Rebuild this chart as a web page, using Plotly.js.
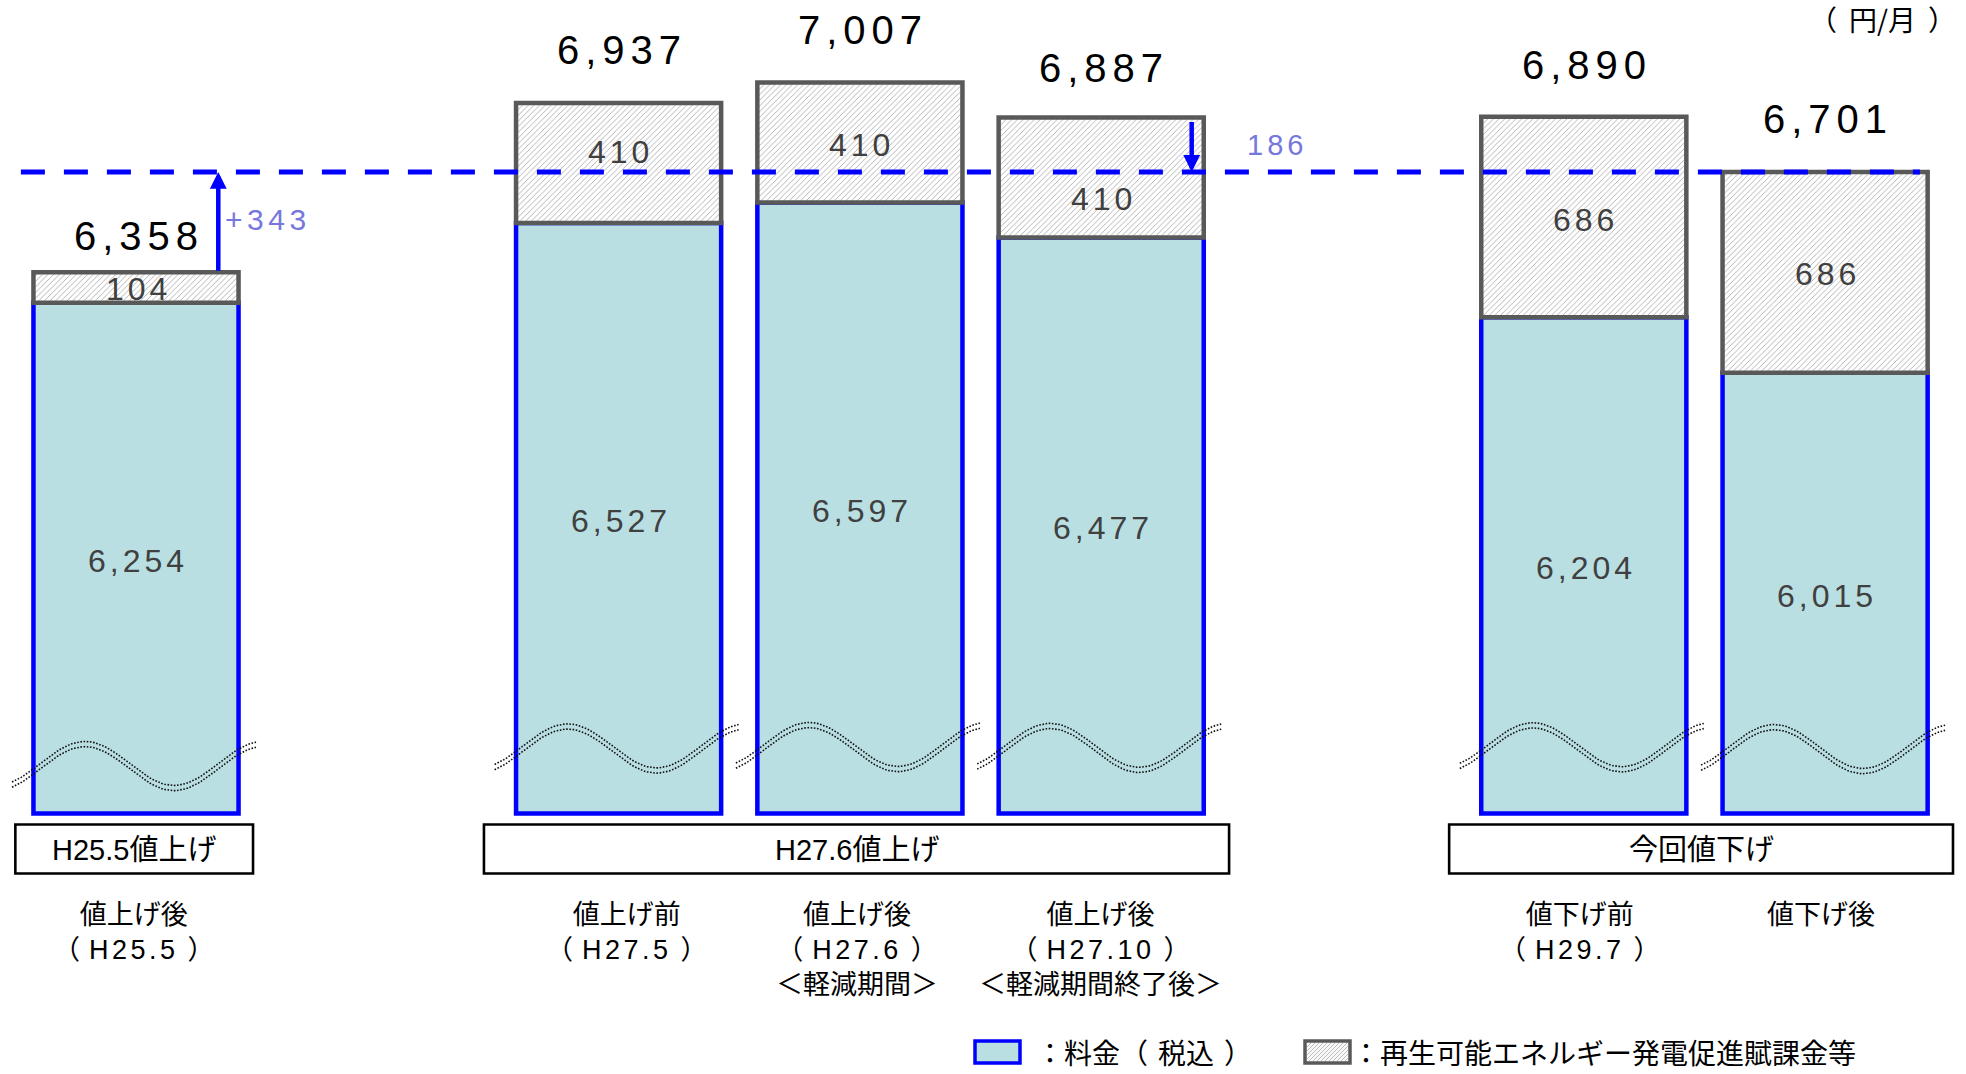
<!DOCTYPE html>
<html>
<head>
<meta charset="utf-8">
<script src="https://cdn.plot.ly/plotly-3.0.1.min.js"></script>
<style>
html,body{margin:0;padding:0;background:#ffffff;}
#chart{width:1966px;height:1074px;}
</style>
</head>
<body>
<div id="chart"></div>
<script>
// ---------------- data ----------------
const categories = [
  '値上げ後<br>（H25.5）',
  '値上げ前<br>（H27.5）',
  '値上げ後<br>（H27.6）<br>＜軽減期間＞',
  '値上げ後<br>（H27.10）<br>＜軽減期間終了後＞',
  '値下げ前<br>（H29.7）',
  '値下げ後'
];
const groupLabels = ['H25.5値上げ', 'H27.6値上げ', '今回値下げ'];
const barGroup = [0, 1, 1, 1, 2, 2];
const fee = [6254, 6527, 6597, 6477, 6204, 6015];          // 料金（税込）
const surcharge = [104, 410, 410, 410, 686, 686];          // 再エネ賦課金等
const seriesNames = ['：料金（税込）', '：再生可能エネルギー発電促進賦課金等'];
const unitLabel = '（円/月）';
const breakBase = 4508;   // value at the bottom of the broken axis

// ---------------- derived ----------------
const total = fee.map((v, i) => v + surcharge[i]);
const pos = barGroup.map((g, i) => i + g);
const refTotal = total[total.length - 1];
const diffUp = refTotal - total[0];
const diffDown = total[3] - refTotal;
const fmt = v => v.toLocaleString('en-US');

// ---------------- layout geometry ----------------
const W = 1966, H = 1074, MB = 255, PH = H - MB;
const UNIT_PX = 241.3, X0_PX = 136;
const PX_PER_VAL = 0.2925, Y_TOP = 7289;
const xRange = [-X0_PX / UNIT_PX, (W - X0_PX) / UNIT_PX];
const yRange = [Y_TOP - PH / PX_PER_VAL, Y_TOP];
const paperX = px => px / W;
const paperY = px => (PH - px) / PH;

const NUM_FONT = '"Liberation Sans", Arial, sans-serif';
const JP_FONT = '"Liberation Sans", "Noto Sans CJK JP", sans-serif';
const JP_ONLY = '"Noto Sans CJK JP", sans-serif';
const BLUE = '#0000FF', TEAL = '#B9DFE3', GREY_LINE = '#595959';
const ls = (s, v) => `<span style="letter-spacing:${v}px">${s}</span>`;
// give full-width brackets room on their inner side (as in the original typesetting)
const roomy = (s, parenGap, inner) => s.replace(/（([^）]*)）/g, (m, t) =>
  ls('（', parenGap) + (t.length > 1 ? ls(t.slice(0, -1), inner) : '') + ls(t.slice(-1), inner + parenGap) + '）');

// ---------------- traces ----------------
const barW = 0.85;
const traces = [
  {
    type: 'bar', x: pos, y: fee.map(v => v - breakBase), base: breakBase,
    width: barW, name: seriesNames[0], showlegend: false,
    marker: {color: TEAL, line: {color: BLUE, width: 4.5}},
    hoverinfo: 'skip'
  },
  {
    type: 'bar', x: pos, y: surcharge, base: fee,
    width: barW, name: seriesNames[1], showlegend: false,
    marker: {color: '#ffffff', line: {color: GREY_LINE, width: 4.5},
      pattern: {shape: '/', fgcolor: '#aaaaaa', bgcolor: '#ffffff', size: 4, solidity: 0.22}},
    hoverinfo: 'skip'
  }
];

// axis-break wavy double lines
const wave = {P: 178 / UNIT_PX, dx0: -95.5 / UNIT_PX, A: 22 / PX_PER_VAL, from: -124 / UNIT_PX, to: 120 / UNIT_PX,
  off: 2.6 / PX_PER_VAL, centre: [4670, 4730, 4735, 4732, 4734, 4728]};
[-1, 1].forEach(sgn => {
  const wx = [], wy = [];
  pos.forEach((p, i) => {
    const N = 80;
    for (let k = 0; k <= N; k++) {
      const dx = wave.from + (wave.to - wave.from) * k / N;
      wx.push(p + dx);
      wy.push(wave.centre[i] + wave.A * Math.sin(2 * Math.PI * (dx - wave.dx0) / wave.P) + sgn * wave.off);
    }
    wx.push(null); wy.push(null);
  });
  traces.push({type: 'scatter', mode: 'lines', x: wx, y: wy, connectgaps: false, showlegend: false,
    hoverinfo: 'skip', line: {color: '#111111', width: 1.6, dash: '1.6px,1.6px'}});
});

// ---------------- annotations ----------------
const annotations = [];
const totalShift = [36, 53, 52, 50, 52, 53];
const surShift = [-1.5, 11, -2.5, -21, -2.5, -2];
const catShiftX = [-2, 8, -3, -1, -4, -4];
pos.forEach((p, i) => {
  annotations.push({x: p, y: total[i], xref: 'x', yref: 'y', showarrow: false, yanchor: 'middle',
    yshift: totalShift[i], xshift: 3, text: ls(fmt(total[i]), 6),
    font: {family: NUM_FONT, size: 40, color: '#000000'}});
  annotations.push({x: p, y: fee[i] + surcharge[i] / 2, xref: 'x', yref: 'y', showarrow: false, yanchor: 'middle',
    yshift: surShift[i], xshift: 2, text: ls(fmt(surcharge[i]), 4),
    font: {family: NUM_FONT, size: 32, color: '#404040'}});
  annotations.push({x: p, y: (breakBase + fee[i]) / 2, xref: 'x', yref: 'y', showarrow: false, yanchor: 'middle',
    yshift: -3, xshift: 2, text: ls(fmt(fee[i]), 4),
    font: {family: NUM_FONT, size: 32, color: '#404040'}});
  annotations.push({x: p, y: paperY(898), xref: 'x', yref: 'paper', showarrow: false, yanchor: 'top',
    xshift: catShiftX[i], text: roomy(categories[i], 9, 3.5), font: {family: JP_FONT, size: 27, color: '#000000'}});
});

// group boxes
const groupPad = [[0.50, 0.485], [0.558, 0.53], [0.558, 0.53]];
const shapes = [];
groupLabels.forEach((lab, g) => {
  const members = pos.filter((p, i) => barGroup[i] === g);
  const x0 = members[0] - groupPad[g][0], x1 = members[members.length - 1] + groupPad[g][1];
  shapes.push({type: 'rect', xref: 'x', yref: 'paper', x0: x0, x1: x1, y0: paperY(824.5), y1: paperY(873.5),
    line: {color: '#000000', width: 2.6}, fillcolor: '#ffffff', layer: 'above'});
  annotations.push({x: (x0 + x1) / 2, y: paperY(850), xref: 'x', yref: 'paper', showarrow: false, yanchor: 'middle',
    text: lab, font: {family: JP_FONT, size: 29, color: '#000000'}});
});

// reference dashed line at the new total
shapes.push({type: 'line', xref: 'x', yref: 'y', x0: -0.477, x1: 7.393, y0: refTotal, y1: refTotal,
  line: {color: BLUE, width: 5, dash: '24px,19px'}, layer: 'above'});

// arrows and differences
const upX = pos[0] + 0.341, downX = pos[3] + 0.375;
annotations.push({x: upX, y: refTotal, ax: upX, ay: total[0], xref: 'x', yref: 'y', axref: 'x', ayref: 'y',
  text: '', showarrow: true, arrowhead: 2, arrowsize: 0.75, arrowwidth: 4.5, arrowcolor: BLUE, standoff: 0, startstandoff: 0});
annotations.push({x: downX, y: refTotal, ax: downX, ay: total[3], xref: 'x', yref: 'y', axref: 'x', ayref: 'y',
  text: '', showarrow: true, arrowhead: 2, arrowsize: 0.75, arrowwidth: 4.5, arrowcolor: BLUE, standoff: 0, startstandoff: 3});
annotations.push({x: upX, y: (refTotal + total[0]) / 2, xref: 'x', yref: 'y', showarrow: false,
  xanchor: 'left', yanchor: 'middle', xshift: 5, yshift: 3, text: ls('+' + diffUp, 4.5),
  font: {family: NUM_FONT, size: 30, color: '#7777DD'}});
annotations.push({x: downX, y: (refTotal + total[3]) / 2, xref: 'x', yref: 'y', showarrow: false,
  xanchor: 'left', yanchor: 'middle', xshift: 53, yshift: 0, text: ls(String(diffDown), 4),
  font: {family: NUM_FONT, size: 29, color: '#7777DD'}});

// unit label
annotations.push({x: paperX(1882), y: paperY(19), xref: 'paper', yref: 'paper', showarrow: false,
  xanchor: 'center', yanchor: 'middle', text: roomy(unitLabel, 12, 0), font: {family: JP_ONLY, size: 28, color: '#000000'}});

// custom legend
const sw1 = [975, 1020], sw2 = [1305, 1350], swY = [1041, 1063];
shapes.push({type: 'rect', xref: 'paper', yref: 'paper', x0: paperX(sw1[0]), x1: paperX(sw1[1]),
  y0: paperY(swY[1]), y1: paperY(swY[0]), fillcolor: TEAL, line: {color: BLUE, width: 3.5}});
shapes.push({type: 'rect', xref: 'paper', yref: 'paper', x0: paperX(sw2[0]), x1: paperX(sw2[1]),
  y0: paperY(swY[1]), y1: paperY(swY[0]), fillcolor: '#f7f7f7', line: {color: GREY_LINE, width: 3.5}});
(function () {
  const [x0, x1] = [sw2[0] + 2, sw2[1] - 2], [y0, y1] = [swY[0] + 2, swY[1] - 2], h = y1 - y0;
  let d = '';
  for (let c = x0 - h; c < x1; c += 4) {
    let sx = c, sy = y1, ex = c + h, ey = y0;
    if (sx < x0) { sy = y1 - (x0 - sx); sx = x0; }
    if (ex > x1) { ey = y0 + (ex - x1); ex = x1; }
    d += `M${paperX(sx)},${paperY(sy)}L${paperX(ex)},${paperY(ey)}`;
  }
  shapes.push({type: 'path', xref: 'paper', yref: 'paper', path: d, line: {color: '#bdbdbd', width: 1}});
})();
annotations.push({x: paperX(1034), y: paperY(1052), xref: 'paper', yref: 'paper', showarrow: false,
  xanchor: 'left', yanchor: 'middle', text: roomy(seriesNames[0], 10, 0), font: {family: JP_ONLY, size: 28, color: '#000000'}});
annotations.push({x: paperX(1350), y: paperY(1052), xref: 'paper', yref: 'paper', showarrow: false,
  xanchor: 'left', yanchor: 'middle', text: seriesNames[1], font: {family: JP_ONLY, size: 28, color: '#000000'}});

const layout = {
  width: W, height: H,
  margin: {l: 0, r: 0, t: 0, b: MB, pad: 0},
  paper_bgcolor: '#ffffff', plot_bgcolor: '#ffffff',
  barmode: 'overlay',
  showlegend: false,
  xaxis: {range: xRange, visible: false, fixedrange: true},
  yaxis: {range: yRange, visible: false, fixedrange: true},
  shapes: shapes,
  annotations: annotations,
  font: {family: JP_FONT}
};

Plotly.newPlot('chart', traces, layout, {displayModeBar: false, staticPlot: true});
</script>
</body>
</html>
